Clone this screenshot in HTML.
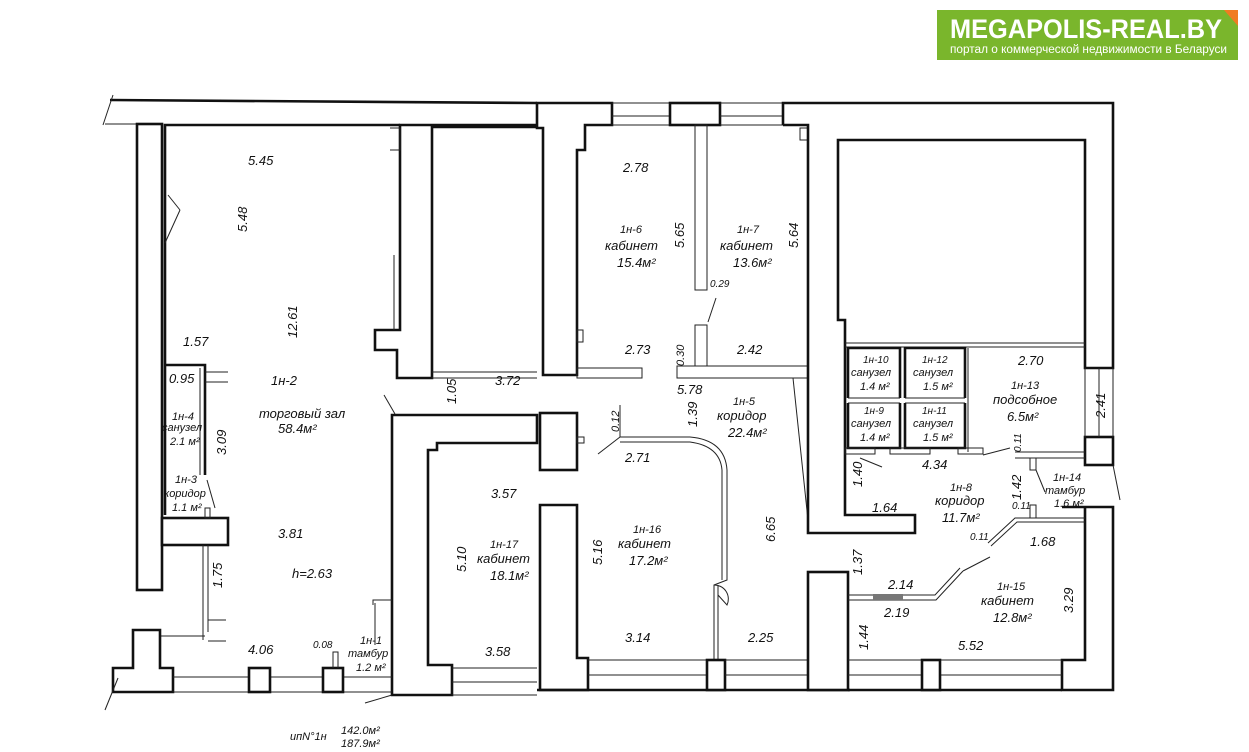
<!DOCTYPE html>
<html><head><meta charset="utf-8"><style>
body{margin:0;background:#fff;width:1249px;height:752px;overflow:hidden}
svg{display:block}
text{font-family:"Liberation Sans",sans-serif;font-style:italic;font-size:13px;fill:#111}
.t{stroke:#111;stroke-width:2.6;fill:#fff}
.n{stroke:#222;stroke-width:1;fill:none}
.l{stroke:#111;stroke-width:2.6;fill:none}
</style></head><body>
<svg width="1249" height="752" viewBox="0 0 1249 752">
<!-- logo -->
<rect x="937" y="10" width="301" height="50" fill="#7ab62c"/>
<polygon points="1224,10 1238,10 1238,26" fill="#f07c22"/>
<text x="950" y="38" textLength="272" lengthAdjust="spacingAndGlyphs" style="font-style:normal;font-weight:bold;font-size:27px;fill:#fff">MEGAPOLIS-REAL.BY</text>
<text x="950" y="53" textLength="277" lengthAdjust="spacingAndGlyphs" style="font-style:normal;font-size:11.5px;fill:#fff">портал о коммерческой недвижимости в Беларуси</text>

<!-- LEFT BUILDING -->
<polyline class="l" points="110,100 537,103"/>
<line class="n" x1="103" y1="125" x2="113" y2="95"/>
<line class="n" x1="105" y1="124" x2="137" y2="124"/>
<rect class="t" x="137" y="124" width="25" height="466"/>
<polyline class="l" points="165,515 165,125 400,125"/>
<polygon class="t" points="400,125 400,330 375,330 375,350 397,350 397,378 432,378 432,127 537,127 537,125 432,125"/>
<line class="n" x1="432" y1="372" x2="537" y2="372"/>
<line class="n" x1="432" y1="378" x2="537" y2="378"/>
<polyline class="n" points="390,128 400,128 400,150 390,150"/>
<line class="n" x1="394" y1="255" x2="394" y2="330"/>
<line class="n" x1="168" y1="195" x2="180" y2="210"/>
<line class="n" x1="180" y1="210" x2="165" y2="243"/>
<!-- lower left block -->
<polygon class="t" points="397,415 537,415 537,443 437,443 437,450 428,450 428,665 452,665 452,695 392,695 392,415"/>
<line class="n" x1="452" y1="668" x2="537" y2="668"/>
<line class="n" x1="452" y1="682" x2="537" y2="682"/>
<line class="n" x1="452" y1="695" x2="537" y2="695"/>
<line class="n" x1="384" y1="395" x2="395" y2="414"/>
<!-- 1н-4 / 1н-3 -->
<polyline class="l" points="165,365 205,365 205,475"/>
<line class="n" x1="200" y1="368" x2="200" y2="475"/>
<line class="n" x1="205" y1="372" x2="228" y2="372"/>
<line class="n" x1="205" y1="382" x2="228" y2="382"/>
<rect class="t" x="162" y="518" width="66" height="27"/>
<line class="n" x1="203" y1="545" x2="203" y2="640"/>
<line class="n" x1="208" y1="545" x2="208" y2="632"/>
<line class="n" x1="160" y1="636" x2="205" y2="636"/>
<line class="n" x1="208" y1="620" x2="226" y2="620"/>
<line class="n" x1="208" y1="641" x2="226" y2="641"/>
<line class="n" x1="207" y1="480" x2="215" y2="508"/>
<rect class="n" x="205" y="508" width="5" height="10"/>
<!-- bottom left -->
<polygon class="t" points="113,668 133,668 133,630 160,630 160,668 173,668 173,692 113,692"/>
<line class="n" x1="173" y1="677" x2="392" y2="677"/>
<line class="n" x1="173" y1="692" x2="392" y2="692"/>
<rect class="t" x="249" y="668" width="21" height="24"/>
<rect class="t" x="323" y="668" width="20" height="24"/>
<line class="n" x1="105" y1="710" x2="118" y2="678"/>
<polyline class="n" points="333,668 333,652 338,652 338,668"/>
<polyline class="n" points="373,605 373,600 392,600"/>
<line class="n" x1="375" y1="603" x2="375" y2="645"/>
<line class="n" x1="365" y1="703" x2="392" y2="695"/>

<!-- MIDDLE BUILDING -->
<polygon class="t" points="537,103 612,103 612,125 585,125 585,150 577,150 577,375 543,375 543,128 537,128"/>
<line class="n" x1="612" y1="103" x2="670" y2="103"/>
<line class="n" x1="612" y1="116" x2="670" y2="116"/>
<line class="n" x1="612" y1="125" x2="670" y2="125"/>
<rect class="t" x="670" y="103" width="50" height="22"/>
<line class="n" x1="720" y1="103" x2="783" y2="103"/>
<line class="n" x1="720" y1="116" x2="783" y2="116"/>
<line class="n" x1="720" y1="125" x2="783" y2="125"/>
<rect class="n" x="577" y="368" width="65" height="10"/>
<rect class="n" x="695" y="125" width="12" height="165"/>
<rect class="n" x="695" y="325" width="12" height="41"/>
<rect class="n" x="677" y="366" width="131" height="12"/>
<line class="n" x1="708" y1="322" x2="716" y2="298"/>
<rect class="n" x="577" y="330" width="6" height="12"/>
<rect class="n" x="800" y="128" width="8" height="12"/>
<!-- middle lower -->
<rect class="t" x="540" y="413" width="37" height="57"/>
<rect class="n" x="577" y="437" width="7" height="6"/>
<polygon class="t" points="540,505 577,505 577,658 588,658 588,690 540,690"/>
<path class="n" d="M620,437 L690,437 Q725,440 727,470 L727,580 L714,585 L714,660"/>
<path class="n" d="M620,442 L690,442 Q720,446 722,470 L722,580 M718,585 L718,660"/>
<path class="n" d="M714,585 A14,14 0 0 1 727,605 L718,595"/>
<line class="n" x1="620" y1="437" x2="598" y2="454"/>
<line class="n" x1="620" y1="405" x2="620" y2="437"/>
<line class="n" x1="588" y1="660" x2="707" y2="660"/>
<line class="n" x1="588" y1="675" x2="707" y2="675"/>
<line class="l" x1="537" y1="690" x2="850" y2="690"/>
<rect class="t" x="707" y="660" width="18" height="30"/>
<line class="n" x1="725" y1="660" x2="808" y2="660"/>
<line class="n" x1="725" y1="675" x2="808" y2="675"/>
<line class="n" x1="793" y1="378" x2="808" y2="520"/>

<!-- RIGHT BUILDING -->
<polyline class="l" points="783,125 783,103 1113,103 1113,368 1085,368 1085,140 838,140 838,320 845,320 845,515 915,515 915,533 808,533 808,125 783,125"/>
<line class="n" x1="845" y1="343" x2="1085" y2="343"/>
<line class="n" x1="845" y1="347" x2="1085" y2="347"/>
<rect class="t" x="1085" y="437" width="28" height="28"/>
<line class="n" x1="1085" y1="368" x2="1085" y2="437"/>
<line class="n" x1="1099" y1="368" x2="1099" y2="437"/>
<line class="n" x1="1113" y1="368" x2="1113" y2="437"/>
<!-- toilets -->
<polyline class="l" points="848,398 848,348 900,348 900,398"/>
<polyline class="l" points="905,398 905,348 965,348 965,398"/>
<line class="n" x1="848" y1="398" x2="900" y2="398"/>
<line class="n" x1="848" y1="403" x2="900" y2="403"/>
<line class="n" x1="905" y1="398" x2="965" y2="398"/>
<line class="n" x1="905" y1="403" x2="965" y2="403"/>
<polyline class="l" points="848,403 848,448 900,448 900,403"/>
<polyline class="l" points="905,403 905,448 965,448 965,403"/>
<line class="n" x1="968" y1="348" x2="968" y2="452"/>
<rect class="n" x="845" y="448" width="30" height="6"/>
<rect class="n" x="890" y="448" width="40" height="6"/>
<rect class="n" x="958" y="448" width="25" height="6"/>
<line class="n" x1="1015" y1="452" x2="1085" y2="452"/>
<line class="n" x1="1015" y1="458" x2="1085" y2="458"/>
<line class="n" x1="860" y1="458" x2="882" y2="467"/>
<line class="n" x1="983" y1="455" x2="1010" y2="448"/>
<rect class="n" x="1030" y="458" width="6" height="12"/>
<line class="n" x1="1036" y1="470" x2="1045" y2="492"/>
<line class="n" x1="1113" y1="465" x2="1120" y2="500"/>
<!-- lower right -->
<polygon class="t" points="1062,507 1113,507 1113,690 1062,690 1062,660 1085,660 1085,507"/>
<rect class="t" x="808" y="572" width="40" height="118"/>
<line class="n" x1="848" y1="660" x2="1062" y2="660"/>
<line class="n" x1="848" y1="675" x2="1062" y2="675"/>
<line class="l" x1="848" y1="690" x2="1062" y2="690"/>
<rect class="t" x="922" y="660" width="18" height="30"/>
<polyline class="n" points="1085,518 1015,518 988,543"/>
<polyline class="n" points="1085,522 1017,522 991,546"/>
<rect class="n" x="1030" y="505" width="6" height="13"/>
<polyline class="n" points="848,595 935,595 960,568"/>
<polyline class="n" points="848,600 936,600 963,571"/>
<line class="n" x1="963" y1="571" x2="990" y2="557"/>
<rect x="873" y="594" width="30" height="6" fill="#777"/>

<!-- TEXTS -->
<text x="248" y="165">5.45</text>
<text transform="translate(247,232) rotate(-90)">5.48</text>
<text transform="translate(297,338) rotate(-90)">12.61</text>
<text x="183" y="346">1.57</text>
<text x="169" y="383">0.95</text>
<text x="271" y="385">1н-2</text>
<text x="259" y="418">торговый зал</text>
<text x="278" y="433">58.4м²</text>
<text x="172" y="420" style="font-size:11px">1н-4</text>
<text x="162" y="431" style="font-size:11px">санузел</text>
<text x="170" y="445" style="font-size:11px">2.1 м²</text>
<text transform="translate(226,455) rotate(-90)">3.09</text>
<text x="175" y="483" style="font-size:11px">1н-3</text>
<text x="164" y="497" style="font-size:11px">коридор</text>
<text x="172" y="511" style="font-size:11px">1.1 м²</text>
<text x="278" y="538">3.81</text>
<text x="292" y="578">h=2.63</text>
<text transform="translate(222,588) rotate(-90)">1.75</text>
<text x="248" y="654">4.06</text>
<text x="313" y="648" style="font-size:10px">0.08</text>
<text x="360" y="644" style="font-size:11px">1н-1</text>
<text x="348" y="657" style="font-size:11px">тамбур</text>
<text x="356" y="671" style="font-size:11px">1.2 м²</text>
<text transform="translate(456,404) rotate(-90)">1.05</text>
<text x="495" y="385">3.72</text>
<text x="491" y="498">3.57</text>
<text transform="translate(466,572) rotate(-90)">5.10</text>
<text x="490" y="548" style="font-size:11px">1н-17</text>
<text x="477" y="563">кабинет</text>
<text x="490" y="580">18.1м²</text>
<text x="485" y="656">3.58</text>
<text x="290" y="740" style="font-size:11px">ипN°1н</text>
<text x="341" y="734" style="font-size:11px">142.0м²</text>
<text x="341" y="747" style="font-size:11px">187.9м²</text>

<text x="623" y="172">2.78</text>
<text x="620" y="233" style="font-size:11px">1н-6</text>
<text x="605" y="250">кабинет</text>
<text x="617" y="267">15.4м²</text>
<text transform="translate(684,248) rotate(-90)">5.65</text>
<text x="737" y="233" style="font-size:11px">1н-7</text>
<text x="720" y="250">кабинет</text>
<text x="733" y="267">13.6м²</text>
<text transform="translate(798,248) rotate(-90)">5.64</text>
<text x="710" y="287" style="font-size:10px">0.29</text>
<text x="625" y="354">2.73</text>
<text transform="translate(684,366) rotate(-90)" style="font-size:11px">0.30</text>
<text x="737" y="354">2.42</text>
<text x="677" y="394">5.78</text>
<text x="733" y="405" style="font-size:11px">1н-5</text>
<text x="717" y="420">коридор</text>
<text x="728" y="437">22.4м²</text>
<text transform="translate(697,427) rotate(-90)">1.39</text>
<text transform="translate(619,432) rotate(-90)" style="font-size:11px">0.12</text>
<text x="625" y="462">2.71</text>
<text x="633" y="533" style="font-size:11px">1н-16</text>
<text x="618" y="548">кабинет</text>
<text x="629" y="565">17.2м²</text>
<text transform="translate(602,565) rotate(-90)">5.16</text>
<text transform="translate(775,542) rotate(-90)">6.65</text>
<text x="625" y="642">3.14</text>
<text x="748" y="642">2.25</text>

<text x="863" y="363" style="font-size:10px">1н-10</text>
<text x="851" y="376" style="font-size:11px">санузел</text>
<text x="860" y="390" style="font-size:11px">1.4 м²</text>
<text x="922" y="363" style="font-size:10px">1н-12</text>
<text x="913" y="376" style="font-size:11px">санузел</text>
<text x="923" y="390" style="font-size:11px">1.5 м²</text>
<text x="864" y="414" style="font-size:10px">1н-9</text>
<text x="851" y="427" style="font-size:11px">санузел</text>
<text x="860" y="441" style="font-size:11px">1.4 м²</text>
<text x="922" y="414" style="font-size:10px">1н-11</text>
<text x="913" y="427" style="font-size:11px">санузел</text>
<text x="923" y="441" style="font-size:11px">1.5 м²</text>
<text x="1018" y="365">2.70</text>
<text x="1011" y="389" style="font-size:11px">1н-13</text>
<text x="993" y="404">подсобное</text>
<text x="1007" y="421">6.5м²</text>
<text transform="translate(1105,418) rotate(-90)">2.41</text>
<text transform="translate(1021,452) rotate(-90)" style="font-size:10px">0.11</text>
<text x="922" y="469">4.34</text>
<text transform="translate(862,487) rotate(-90)">1.40</text>
<text x="950" y="491" style="font-size:11px">1н-8</text>
<text x="935" y="505">коридор</text>
<text x="942" y="522">11.7м²</text>
<text transform="translate(1021,500) rotate(-90)">1.42</text>
<text x="1012" y="509" style="font-size:10px">0.11</text>
<text x="1053" y="481" style="font-size:11px">1н-14</text>
<text x="1045" y="494" style="font-size:11px">тамбур</text>
<text x="1054" y="507" style="font-size:11px">1.6 м²</text>
<text x="872" y="512">1.64</text>
<text x="970" y="540" style="font-size:10px">0.11</text>
<text x="1030" y="546">1.68</text>
<text transform="translate(862,575) rotate(-90)">1.37</text>
<text x="888" y="589">2.14</text>
<text x="884" y="617">2.19</text>
<text x="997" y="590" style="font-size:11px">1н-15</text>
<text x="981" y="605">кабинет</text>
<text x="993" y="622">12.8м²</text>
<text transform="translate(1073,613) rotate(-90)">3.29</text>
<text transform="translate(868,650) rotate(-90)">1.44</text>
<text x="958" y="650">5.52</text>
</svg>
</body></html>
